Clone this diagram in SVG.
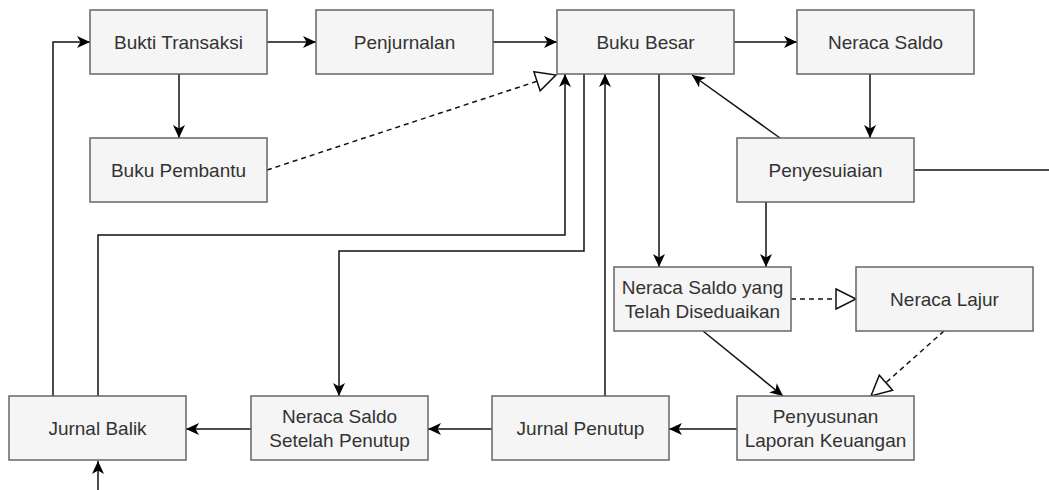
<svg xmlns="http://www.w3.org/2000/svg" width="1049" height="490" viewBox="0 0 1049 490">
<style>
.box{fill:#f5f5f5;stroke:#666666;stroke-width:1.5}
.lbl{font-family:"Liberation Sans",Arial,sans-serif;font-size:19px;fill:#333333;text-anchor:middle;dominant-baseline:central}
.edge{fill:none;stroke:#111111;stroke-width:1.5}
.solid{marker-end:url(#arrow)}
.dash{stroke-dasharray:5 4;marker-end:url(#open)}
</style>
<defs>
<marker id="arrow" markerUnits="userSpaceOnUse" markerWidth="16" markerHeight="14" refX="13" refY="6" orient="auto" viewBox="0 0 16 14">
<path d="M0,0 L13,6 L0,12 L3.5,6 Z" fill="#000"/>
</marker>
<marker id="open" markerUnits="userSpaceOnUse" markerWidth="24" markerHeight="24" refX="20" refY="10" orient="auto" viewBox="-1 -1 24 24">
<path d="M0,0 L20,10 L0,20 Z" fill="#ffffff" stroke="#111111" stroke-width="1.5"/>
</marker>
</defs>
<g id="connectors">
<path class="edge solid" d="M267,42 H316"/>
<path class="edge solid" d="M493,42 H557"/>
<path class="edge solid" d="M734,42 H797"/>
<path class="edge solid" d="M179,74 V138"/>
<path class="edge dash" d="M267,170 L556,75"/>
<path class="edge solid" d="M870,74 V138"/>
<path class="edge solid" d="M780,138 L692,75"/>
<path class="edge" d="M914,170 H1049"/>
<path class="edge solid" d="M766,202 V267"/>
<path class="edge solid" d="M659,74 V267"/>
<path class="edge dash" d="M791,299 H856"/>
<path class="edge solid" d="M703,331 L783,396"/>
<path class="edge dash" d="M944,331 L871,396"/>
<path class="edge solid" d="M737,429 H669"/>
<path class="edge solid" d="M605,396 V74"/>
<path class="edge solid" d="M492,429 H428"/>
<path class="edge solid" d="M251,429 H186"/>
<path class="edge solid" d="M53,396 V42 H90"/>
<path class="edge solid" d="M98,396 V235 H565 V74"/>
<path class="edge solid" d="M584,74 V251 H339 V396"/>
<path class="edge solid" d="M98,490 V461"/>
</g>
<g id="bukti-transaksi"><rect class="box" x="90" y="10" width="177" height="64"/><text class="lbl" x="178.5" y="42">Bukti Transaksi</text></g>
<g id="buku-pembantu"><rect class="box" x="90" y="138" width="177" height="64"/><text class="lbl" x="178.5" y="170">Buku Pembantu</text></g>
<g id="penjurnalan"><rect class="box" x="316" y="10" width="177" height="64"/><text class="lbl" x="404.5" y="42">Penjurnalan</text></g>
<g id="buku-besar"><rect class="box" x="557" y="10" width="177" height="64"/><text class="lbl" x="645.5" y="42">Buku Besar</text></g>
<g id="neraca-saldo"><rect class="box" x="797" y="10" width="177" height="64"/><text class="lbl" x="885.5" y="42">Neraca Saldo</text></g>
<g id="penyesuaian"><rect class="box" x="737" y="138" width="177" height="64"/><text class="lbl" x="825.5" y="170">Penyesuiaian</text></g>
<g id="neraca-saldo-disesuaikan"><rect class="box" x="614" y="267" width="177" height="64"/><text class="lbl" x="702.5" y="287">Neraca Saldo yang</text><text class="lbl" x="702.5" y="311">Telah Diseduaikan</text></g>
<g id="neraca-lajur"><rect class="box" x="856" y="267" width="177" height="64"/><text class="lbl" x="944.5" y="299">Neraca Lajur</text></g>
<g id="penyusunan-laporan"><rect class="box" x="737" y="396" width="177" height="64"/><text class="lbl" x="825.5" y="416">Penyusunan</text><text class="lbl" x="825.5" y="440">Laporan Keuangan</text></g>
<g id="jurnal-penutup"><rect class="box" x="492" y="396" width="177" height="64"/><text class="lbl" x="580.5" y="428">Jurnal Penutup</text></g>
<g id="neraca-saldo-setelah-penutup"><rect class="box" x="251" y="396" width="177" height="64"/><text class="lbl" x="339.5" y="416">Neraca Saldo</text><text class="lbl" x="339.5" y="440">Setelah Penutup</text></g>
<g id="jurnal-balik"><rect class="box" x="9" y="396" width="177" height="64"/><text class="lbl" x="97.5" y="428">Jurnal Balik</text></g>
</svg>
